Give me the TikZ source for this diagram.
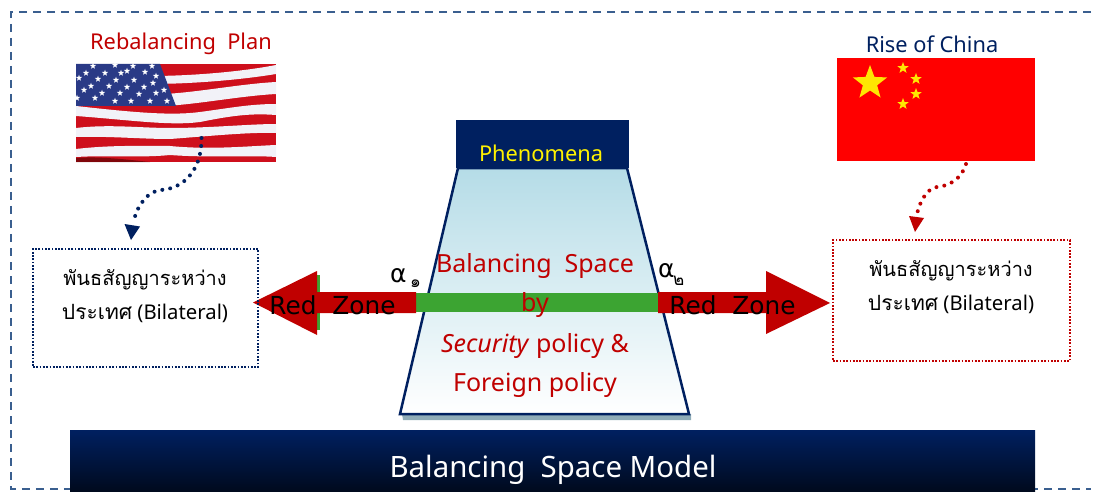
\documentclass[tikz,border=0pt]{standalone}
\usepackage{fontspec}
\setmainfont{Noto Sans}
\newfontfamily\thaif[Script=Thai]{Loma}
\newfontfamily\djv{DejaVu Sans}
\usetikzlibrary{shapes.geometric,calc}
\definecolor{navy}{HTML}{002060}
\definecolor{framec}{HTML}{3A5F8F}
\definecolor{dred}{HTML}{C00000}
\definecolor{barg}{HTML}{3CA432}
\definecolor{flagred}{HTML}{CE0F1C}
\definecolor{usblue}{HTML}{2A3A86}
\definecolor{shadowc}{HTML}{8FACB8}
\definecolor{trtop}{HTML}{B5DCE7}
\definecolor{flagw}{HTML}{F2F2F8}
\tikzset{
 x=1pt,y=-1pt,
 every node/.style={inner sep=0pt,outer sep=0pt},
 head/.style={font=\fontsize{21.8}{26}\selectfont},
 redtxt/.style={align=center,text=dred,font=\fontsize{25}{39}\selectfont},
 zone/.style={text=black,font=\djv\fontsize{24.8}{29}\selectfont},
 bilat/.style={align=center,font=\fontsize{20.3}{34}\selectfont},
 usstar/.style={star,star points=5,star point ratio=2.4,fill=white,minimum size=6.5pt},
 cnstar/.style={star,star points=5,star point ratio=2.4,fill=yellow!90!orange,draw=none},
 dotbox/.style={line width=1.8pt,dash pattern=on 1.7pt off 1.6pt,anchor=north west},
 dotline/.style={line width=4pt,line cap=round,dash pattern=on 0pt off 8pt},
}
\begin{document}
\begin{tikzpicture}
\useasboundingbox (0,0) rectangle (1097,492);
% frame
\draw[framec,line width=1.7pt,dash pattern=on 8.3pt off 5.7pt] (1091,12) -- (11,12) -- (11,489) -- (1091,489);
% US flag
\node[minimum width=200pt,minimum height=98pt,fill=flagred,anchor=north west] (usflag) at (76,64) {};
\begin{scope}
\clip (76,64) rectangle (276,162);
\fill[flagw] (150,76) .. controls (190,76) and (240,72) .. (276,65) -- (276,74) .. controls (240,80) and (190,84) .. (150,84) -- cycle;
\fill[flagw] (165,94) .. controls (200,92) and (240,84) .. (276,82) -- (276,94) .. controls (240,96) and (200,104) .. (165,106) -- cycle;
\fill[flagw] (76,106) .. controls (130,112) and (170,116) .. (200,112) .. controls (230,108) and (250,104) .. (276,104)
  -- (276,115) .. controls (250,113) and (230,116) .. (200,122) .. controls (170,126) and (130,120) .. (76,116) -- cycle;
\fill[flagw] (76,128) .. controls (110,124) and (140,128) .. (170,128) .. controls (210,128) and (250,124) .. (276,124)
  -- (276,133) .. controls (250,132) and (210,136) .. (170,139) .. controls (140,139) and (110,136) .. (76,137) -- cycle;
\fill[flagw] (76,149) .. controls (110,145) and (140,146) .. (170,146) .. controls (210,150) and (250,146) .. (276,145)
  -- (276,157) .. controls (250,155) and (210,158) .. (170,155) .. controls (140,158) and (110,155) .. (76,157) -- cycle;
\fill[usblue] (76,64) -- (160,64) -- (176,106) -- (76,106) -- cycle;
\fill[black!70!red,opacity=.6] (76,162) -- (76,158) .. controls (100,156) and (130,160) .. (150,162) -- cycle;
\foreach \px/\py in {93/66,115/65,133/66,152/66,86/73,105/73,121/73,127/71,145/72,156/76,
  79/78,98/79,116/80,134/80,153/83,91/86,109/86,127/87,144/87,164/90,156/93,
  84/90,102/93,120/93,139/94,77/98,95/98,115/101,131/101,150/101,167/101}{
  \node[usstar] at (\px,\py) {};
}
\end{scope}
% China flag
\node[minimum width=198pt,minimum height=103pt,fill=red,anchor=north west] (cnflag) at (837,58) {};
\node[cnstar,minimum size=36pt] (s0) at (870,83) {};
\node[cnstar,minimum size=12pt] (s1) at (903,68) {};
\node[cnstar,minimum size=12pt] (s2) at (916,79) {};
\node[cnstar,minimum size=12pt] (s3) at (916,94) {};
\node[cnstar,minimum size=12pt] (s4) at (903,104) {};
% headings
\node[head,text=dred] (rbp) at (181,44) {Rebalancing\ \ Plan};
\node[head,text=navy] (roc) at (932,44) {Rise of China};
% Phenomena
\node[fill=navy,minimum width=173pt,minimum height=48pt,anchor=north west] (phen) at (456,120) {};
\node[head,text=yellow] (phent) at (541,153) {Phenomena};
% trapezoid shadow and body
\fill[shadowc] (402,414) -- (691,414) -- (691,420) -- (403,420) -- cycle;
\draw[navy,line width=2.5pt,top color=trtop,bottom color=white,shading angle=0]
  (458,168) -- (627,168) -- (689,414) -- (400,414) -- cycle;
% bottom band
\node[top color=navy,bottom color=navy!30!black,minimum width=965pt,minimum height=62pt,anchor=north west] (band) at (70,430) {};
\node[text=white,font=\fontsize{29.4}{34}\selectfont] (bandt) at (553,470) {Balancing\ \ Space Model};
% texts in trapezoid
\node[redtxt] (t1) at (535,266) {Balancing\ \ Space};
\node[redtxt] (t3) at (535,365) {\textit{Security} policy \&\\Foreign policy};
% green bar and arrows
\fill[barg] (317,275) rectangle (320,330);
\fill[barg] (416,293) rectangle (660,312);
\fill[dred] (416,292) -- (317,292) -- (317,271) -- (253,302.5) -- (317,335) -- (317,313) -- (416,313) -- cycle;
\fill[dred] (658,292) -- (766,292) -- (766,271) -- (830,303) -- (766,334) -- (766,313) -- (658,313) -- cycle;
\node[redtxt] (t2) at (535,305) {by};
\node[zone] (z1) at (332.5,305) {Red\ \ Zone};
\node[zone] (z2) at (732.5,305) {Red\ \ Zone};
% alpha
\node[font=\djv\fontsize{25}{29}\selectfont,anchor=base west] (a1) at (390,282) {α};
\node[font=\thaif\fontsize{17}{20}\selectfont,anchor=base west] (a1s) at (410,287) {๑};
\node[font=\djv\fontsize{25}{29}\selectfont,anchor=base west] (a2) at (658,277) {α};
\node[font=\thaif\fontsize{17}{20}\selectfont,anchor=base west] (a2s) at (673,285) {๒};
% boxes
\node[dotbox,draw=navy,minimum width=225pt,minimum height=118pt] (lbox) at (33,249) {};
\node[bilat] (ltext) at (145,296) {{\thaif\fontsize{20}{34}\selectfont พันธสัญญาระหว่าง}\\{\thaif\fontsize{21}{34}\selectfont ประเทศ} (Bilateral)};
\node[dotbox,draw=dred,minimum width=237pt,minimum height=121pt] (rbox) at (833,240) {};
\node[bilat] (rtext) at (951,287) {{\thaif\fontsize{20}{34}\selectfont พันธสัญญาระหว่าง}\\{\thaif\fontsize{21}{34}\selectfont ประเทศ} (Bilateral)};
% dotted connectors
\coordinate (us0) at (201.5,138);
\coordinate (us1) at (134.5,218);
\coordinate (cn0) at (966,164);
\coordinate (cn1) at (917.5,212);
\draw[navy,dotline] (us0) .. controls (202,165) and (188,188) .. (161,190) .. controls (148,191) and (138,205) .. (us1);
\fill[navy] (124.5,224) -- (140,226.5) -- (131,240) -- cycle;
\draw[dred,dotline] (cn0) .. controls (962,178) and (950,186) .. (937,187) .. controls (927,188) and (920,202) .. (cn1);
\fill[dred] (909,216) -- (924,218) -- (915,232) -- cycle;
\end{tikzpicture}
\end{document}
